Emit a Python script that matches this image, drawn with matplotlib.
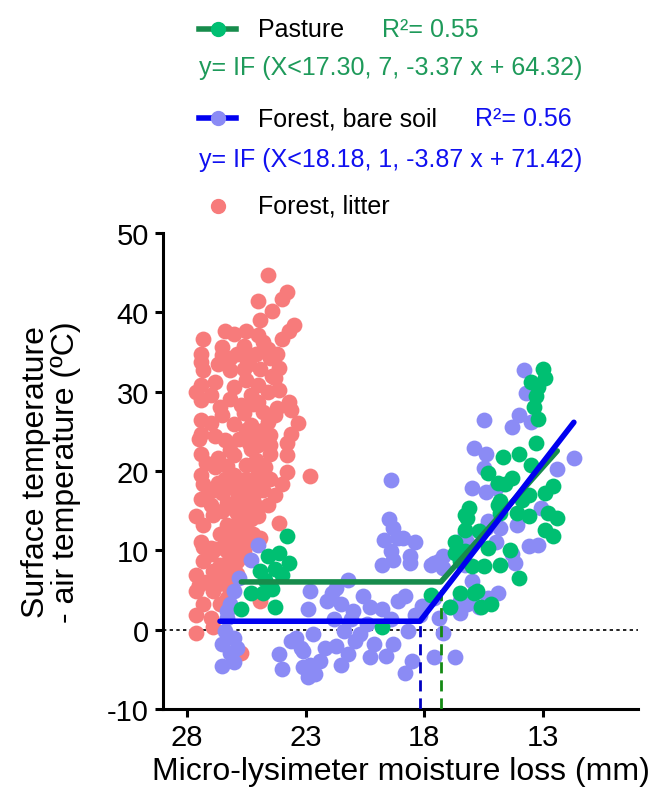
import matplotlib
matplotlib.use("Agg")
import matplotlib.pyplot as plt
from matplotlib.lines import Line2D
import numpy as np

plt.rcParams["font.family"] = ["Liberation Sans", "DejaVu Sans"]
plt.rcParams["axes.unicode_minus"] = False

# ---- data (x = moisture loss mm, y = dT degC) ----
litter_x = [24.6, 23.8, 24.0, 25.0, 24.4, 24.9, 23.5, 23.7, 24.0, 27.3, 26.4, 26.0, 25.5, 25.0,
            26.5, 25.6, 24.6, 27.4, 26.5, 25.9, 25.1, 24.2, 27.4, 26.2, 25.5, 24.5, 27.3, 26.2,
            25.6, 24.9, 24.1, 24.3, 27.4, 26.0, 25.0, 27.6, 27.0, 26.2, 25.3, 24.6, 24.1, 27.4,
            26.6, 25.7, 25.0, 23.7, 23.6, 25.6, 24.8, 24.3, 27.4, 23.3, 26.0, 25.3, 24.6, 25.5,
            24.8, 27.4, 23.6, 26.4, 25.4, 24.5, 23.8, 27.5, 25.0, 27.4, 26.7, 26.0, 25.1, 24.5,
            23.8, 26.3, 25.5, 24.9, 22.8, 27.4, 23.8, 27.3, 26.7, 25.7, 25.0, 24.0, 26.5, 25.9,
            24.8, 27.0, 26.3, 25.5, 24.6, 27.6, 26.9, 25.9, 25.0, 24.1, 27.3, 26.3, 25.5, 26.6,
            25.7, 27.4, 24.9, 27.0, 26.3, 25.6, 27.3, 26.6, 25.9, 27.6, 26.9, 26.3, 27.6, 26.9,
            26.3, 27.3, 26.6, 27.6, 27.0, 26.9, 27.6, 24.9, 25.7,
            26.0, 25.5, 25.0, 26.2, 25.3, 25.8, 25.2, 26.0, 25.5, 25.0, 26.5, 25.8, 25.3, 26.1,
            25.6, 25.2, 26.0, 25.5, 26.4, 25.8, 26.2, 25.8, 26.0, 26.5, 25.9, 26.3, 26.7, 27.2,
            27.5, 27.0, 27.3, 26.8, 27.4, 27.0, 26.4, 26.8, 27.2, 26.2, 25.3, 24.7, 24.5, 24.3,
            24.5, 25.0, 25.8, 26.8, 27.0, 26.5, 25.2, 24.2, 26.8, 25.5, 24.4, 26.7, 24.8, 25.4]
litter_y = [44.7, 42.6, 41.7, 41.4, 40.2, 39.0, 38.4, 37.7, 36.7, 36.7, 37.6, 37.3, 37.7, 37.1,
            35.6, 35.8, 35.4, 34.8, 34.6, 34.8, 34.8, 34.8, 33.8, 34.2, 34.2, 34.2, 32.7, 32.7,
            32.9, 32.9, 33.0, 31.7, 30.8, 30.6, 30.8, 30.0, 29.6, 29.1, 29.6, 30.0, 30.2, 28.9,
            28.1, 28.3, 28.7, 28.7, 27.7, 27.3, 27.5, 27.0, 26.4, 26.1, 25.9, 25.8, 26.2, 25.2,
            25.2, 24.7, 24.7, 23.9, 23.5, 23.3, 23.5, 24.0, 23.3, 22.2, 21.6, 22.0, 21.4, 22.2,
            22.0, 20.6, 20.8, 20.8, 19.4, 19.5, 19.9, 18.3, 18.5, 18.9, 18.7, 18.3, 17.2, 17.4,
            17.6, 15.7, 16.0, 16.2, 15.7, 14.3, 14.5, 14.7, 14.3, 13.4, 13.2, 13.2, 12.8, 12.0,
            11.6, 11.1, 11.6, 10.3, 9.9, 9.9, 8.6, 8.2, 8.6, 6.9, 7.4, 6.5, 4.9, 4.9,
            4.0, 3.2, 3.2, 1.9, 1.5, 0.3, -0.4, 3.6, -2.9,
            19.5, 19.0, 19.8, 18.0, 17.8, 16.8, 16.5, 15.2, 15.0, 15.5, 15.0, 13.8, 14.0, 12.5,
            13.5, 12.0, 11.0, 11.0, 10.8, 10.3, 9.2, 9.0, 7.8, 7.2, 7.0, 5.6, 5.8, 6.0,
            5.6, 9.5, 10.4, 10.2, 16.5, 17.5, 19.0, 20.5, 21.0, 22.6, 22.8, 20.5, 19.0, 17.0,
            24.5, 24.2, 24.0, 24.4, 26.0, 27.0, 28.5, 28.0, 31.2, 31.5, 32.0, 33.5, 36.2, 33.5]

bare_x = [25.0, 25.3, 25.8, 26.0, 26.2, 26.3, 26.4, 26.5, 26.0, 25.9, 26.5, 26.0, 26.2, 24.1,
          24.0, 23.6, 23.2, 23.1, 22.9, 22.8, 22.9, 26.3, 22.1, 19.4, 19.5, 19.3, 19.7, 19.1,
          19.4, 19.8, 19.3, 18.6, 18.6, 17.6, 17.2, 21.2, 21.9, 21.7, 20.6, 21.5, 21.0, 20.3,
          19.8, 19.1, 18.8, 21.8, 21.1, 20.4, 19.4, 18.2, 23.4, 22.7, 21.4, 20.7, 18.7, 23.1,
          22.2, 21.7, 20.9, 20.1, 19.3, 22.8, 22.4, 21.2, 20.3, 19.6, 22.6, 21.5, 18.5, 18.8,
          17.6, 16.7, 17.7, 18.1, 13.8, 13.7, 14.0, 14.3, 13.5, 15.5, 15.9, 15.4, 15.5, 16.0,
          15.4, 15.0, 12.4, 11.7, 13.1, 15.3, 14.8, 14.1, 13.2, 13.6, 14.2, 15.0, 16.2, 16.3,
          17.4, 18.4, 17.2, 16.0, 14.9, 15.3, 16.2, 15.7, 16.9, 16.5, 17.6, 18.4, 17.4, 17.2,
          18.9, 16.3, 15.4, 14.3, 16.5]
bare_y = [10.7, 8.8, 6.5, 4.9, 3.2, 1.5, -0.2, -1.8, -1.0, -2.3, -4.6, -4.1, -2.9, -3.1,
          -5.0, -1.4, -2.3, -4.7, -6.0, 4.9, 2.6, 2.3, 3.6, 18.9, 13.9, 12.8, 11.3, 11.6,
          9.9, 8.2, 8.8, 9.3, 8.4, 8.4, 9.3, 6.3, 4.6, 5.3, 4.2, 3.2, 2.3, 2.8,
          2.6, 3.6, 4.2, 1.3, 1.3, 0.7, 1.3, 1.9, -1.0, -0.6, -0.2, -0.6, -0.2, -2.7,
          -2.3, -2.0, -1.4, -1.8, -1.8, -4.4, -3.9, -3.1, -3.5, -3.3, -5.6, -4.4, -3.9, -5.4,
          -3.5, -3.5, 8.2, 3.0, 32.7, 29.8, 27.0, 25.6, 26.2, 26.4, 22.9, 22.1, 20.4, 17.9,
          17.4, 17.8, 20.3, 21.7, 15.3, 13.7, 12.8, 13.2, 10.7, 10.5, 8.4, 11.1, 11.1, 8.2,
          8.6, 11.1, 7.8, 6.1, 4.6, 4.0, 3.2, 2.8, 2.8, 2.1, 4.0, 1.9, 1.5, -0.4,
          11.6, 12.2, 12.8, 9.5, 3.6]

pasture_x = [23.8, 24.6, 24.1, 23.7, 24.9, 24.3, 24.0, 24.7, 25.3, 24.8, 24.4, 25.7, 24.3, 19.8,
             16.7, 16.7, 17.7, 16.9, 16.5, 16.1, 16.3, 16.3, 15.9, 13.0, 12.9, 13.5, 13.2, 13.3,
             13.4, 13.2, 13.3, 14.7, 13.5, 14.3, 14.9, 14.6, 12.6, 12.9, 13.6, 13.9, 14.8, 16.2,
             16.3, 14.9, 14.8, 14.1, 13.6, 12.8, 12.4, 12.9, 12.6, 15.7, 15.3, 14.4, 16.0, 15.5,
             14.8, 14.0, 15.8, 15.2, 15.6, 16.5, 15.3, 14.0]
pasture_y = [11.8, 9.3, 9.7, 8.4, 7.4, 7.6, 6.9, 6.3, 4.6, 4.6, 5.1, 2.6, 2.8, 0.3,
             11.1, 9.7, 4.4, 2.8, 4.6, 15.3, 14.5, 9.9, 4.6, 32.9, 31.7, 31.2, 30.6, 29.4,
             28.1, 26.6, 23.5, 21.8, 20.8, 19.1, 18.5, 18.3, 18.1, 17.2, 17.0, 16.4, 16.2, 14.1,
             12.6, 15.7, 14.7, 14.7, 14.3, 14.7, 14.1, 12.6, 11.8, 12.4, 10.3, 10.1, 8.0, 8.0,
             8.2, 6.5, 4.9, 3.2, 2.8, 8.6, 19.7, 22.2]

# segmented fits: (breakpoint, slope, intercept, x where plateau starts, x where ramp ends)
pasture_fit = (17.30, -3.37, 64.32, 25.7, 12.4)
bare_fit = (18.18, -3.87, 71.42, 26.6, 11.7)

C_LITTER, C_BARE, C_PAST = "#F77B7B", "#8B8BF5", "#00BF72"
C_PLINE, C_BLINE = "#178C4C", "#0000F0"
DOT = 130

fig = plt.figure(figsize=(6.57, 8.03), dpi=100)
W, H = 657, 803
ax = fig.add_axes([163 / W, 1 - 710 / H, (638 - 163) / W, (710 - 234) / H])

ax.axhline(0, color="black", lw=1.2, ls=(0, (2, 2)), zorder=1)
ax.scatter(litter_x, litter_y, s=DOT, color=C_LITTER, lw=0, zorder=2)
ax.scatter(bare_x, bare_y, s=DOT, color=C_BARE, lw=0, zorder=3)
ax.scatter(pasture_x, pasture_y, s=DOT, color=C_PAST, lw=0, zorder=4)

for (bk, m, b, x0, x1), col, dcol in [(pasture_fit, C_PLINE, "#148A14"), (bare_fit, C_BLINE, "#0000C0")]:
    plateau = m * bk + b
    ax.plot([x0, bk, x1], [plateau, plateau, m * x1 + b], color=col, lw=4,
            solid_capstyle="round", zorder=6)
    ax.plot([bk, bk], [-10, plateau], color=dcol, lw=2, ls=(0, (4, 2.5)), zorder=5)

ax.set_xlim(29, 9)
ax.set_ylim(-10, 50)
ax.set_xticks([28, 23, 18, 13])
ax.set_yticks(range(-10, 51, 10))
for s in ["top", "right"]:
    ax.spines[s].set_visible(False)
for s in ["left", "bottom"]:
    ax.spines[s].set_linewidth(2.2)
ax.tick_params(width=2.2, length=6, labelsize=21, pad=4)
ax.set_xlabel("Micro-lysimeter moisture loss (mm)", fontsize=23, labelpad=4)
ax.set_ylabel("Surface temperature\n- air temperature (ºC)", fontsize=23, labelpad=19,
              linespacing=1.0)

# ---- legend block above the axes, built by hand ----
def px(x, y):
    return x / W, 1 - y / H

def key(y, lcol, mcol, line=True):
    if line:
        fig.add_artist(Line2D([199 / W, 236 / W], [1 - y / H] * 2, color=lcol, lw=4))
    fig.add_artist(Line2D([217.5 / W], [1 - y / H], marker="o", ms=10, color=mcol, lw=0))

key(30, C_PLINE, C_PAST)
fig.text(*px(258, 30), "Pasture", fontsize=18, va="center")
fig.text(*px(382, 30), "R²= 0.55", fontsize=18, va="center", color="#1E9A5A")
fig.text(*px(199, 68), "y= IF (X<17.30, 7, -3.37 x + 64.32)", fontsize=18, va="center",
         color="#1E9A5A")
key(119, C_BLINE, C_BARE)
fig.text(*px(258, 119), "Forest, bare soil", fontsize=18, va="center")
fig.text(*px(475, 119), "R²= 0.56", fontsize=18, va="center", color="#1010F0")
fig.text(*px(199, 160), "y= IF (X<18.18, 1, -3.87 x + 71.42)", fontsize=18, va="center",
         color="#1010F0")
key(207, None, C_LITTER, line=False)
fig.text(*px(258, 207), "Forest, litter", fontsize=18, va="center")

fig.savefig("out.png", dpi=100)
